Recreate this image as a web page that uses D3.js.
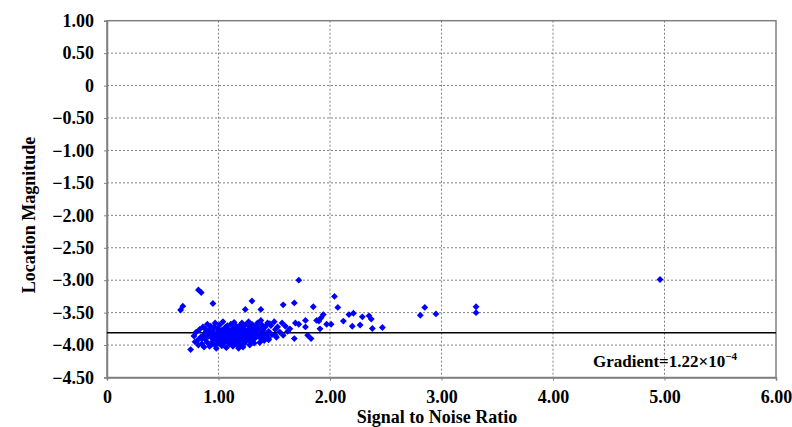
<!DOCTYPE html>
<html><head><meta charset="utf-8">
<script src="https://cdn.jsdelivr.net/npm/d3@7/dist/d3.min.js"></script>
<style>body{margin:0;background:#fff}svg{display:block}</style>
</head><body>
<svg id="c" width="792" height="427"></svg>
<script>
const xTicks = [0,1,2,3,4,5,6];
const xTickLabels = ["0","1.00","2.00","3.00","4.00","5.00","6.00"];
const yTicks = [1,0.5,0,-0.5,-1,-1.5,-2,-2.5,-3,-3.5,-4,-4.5];
const yTickLabels = ["1.00","0.50","0","\u22120.50","\u22121.00","\u22121.50","\u22122.00","\u22122.50","\u22123.00","\u22123.50","\u22124.00","\u22124.50"];
const meanLevel = -3.81;
const snr = [
0.78,0.80,0.81,0.83,0.84,0.85,0.79,0.82,
0.86,0.87,0.88,0.89,0.90,0.90,0.91,0.92,0.88,0.92,0.87,
0.93,0.94,0.95,0.95,0.96,0.97,0.97,0.98,0.99,0.99,1.00,1.00,0.94,0.96,0.98,
1.01,1.01,1.02,1.03,1.03,1.04,1.04,1.05,1.05,1.06,1.06,1.07,1.07,1.08,1.08,1.02,1.04,1.06,1.08,1.03,
1.09,1.09,1.10,1.10,1.11,1.11,1.12,1.12,1.13,1.13,1.14,1.14,1.15,1.15,1.16,1.16,1.10,1.12,1.14,1.16,
1.17,1.17,1.18,1.18,1.19,1.19,1.20,1.20,1.21,1.21,1.22,1.22,1.23,1.23,1.24,1.24,1.25,1.25,1.18,1.22,
1.26,1.26,1.27,1.27,1.28,1.28,1.29,1.29,1.30,1.30,1.31,1.31,1.32,1.33,1.33,1.34,1.35,1.35,1.32,1.28,
1.36,1.37,1.38,1.38,1.39,1.40,1.40,1.41,1.42,1.43,1.44,1.45,1.45,1.37,
1.47,1.48,1.50,1.51,1.52,1.53,1.55,1.57,1.58,1.60,1.62,1.64,1.46,1.51,1.41,1.45,
0.85,0.89,0.93,0.97,1.01,1.05,1.09,1.13,1.17,1.21,1.25,1.29,1.33,0.91,0.99,1.07,1.15,1.23,1.31,1.39,
1.68,1.69,1.72,1.78,1.78,1.80,1.83,1.88,1.90,1.91,1.92,1.94,1.97,2.01,2.07,2.04,2.12,2.17,2.21,2.20,2.27,2.29,2.35,2.37,2.38,2.47,2.81,2.85,2.95,3.31,3.31,4.96,
0.66,0.68,0.82,0.845,0.95,1.24,1.30,1.38,1.58,1.68,1.72,1.85,0.75
];
const magnitude = [
-3.86,-3.80,-3.93,-3.76,-3.88,-3.98,-3.95,-4.00,
-3.72,-3.84,-3.91,-3.79,-3.68,-3.96,-3.86,-4.02,-3.75,-3.81,-4.03,
-3.71,-3.89,-3.78,-3.94,-3.83,-3.66,-4.00,-3.87,-3.74,-3.92,-3.80,-3.97,-3.99,-3.72,-4.05,
-3.69,-3.85,-3.93,-3.77,-4.01,-3.88,-3.64,-3.82,-3.96,-3.73,-3.90,-3.79,-4.04,-3.86,-3.70,-3.81,-3.98,-3.84,-3.95,-3.91,
-3.92,-3.76,-3.83,-3.99,-3.68,-3.88,-3.80,-3.95,-3.74,-4.02,-3.86,-3.65,-3.79,-3.93,-3.84,-3.71,-3.90,-3.87,-3.97,-3.99,
-3.89,-3.76,-3.81,-3.96,-3.70,-3.86,-3.78,-4.01,-3.92,-3.66,-3.84,-3.74,-3.89,-3.98,-3.80,-3.69,-3.87,-3.94,-4.05,-4.03,
-3.77,-3.91,-3.83,-3.64,-3.86,-3.72,-3.95,-3.80,-3.88,-3.68,-3.76,-3.92,-3.84,-3.71,-3.89,-3.79,-3.86,-3.66,-3.97,-4.00,
-3.74,-3.88,-3.81,-3.62,-3.69,-3.85,-3.77,-3.93,-3.72,-3.83,-3.66,-3.79,-3.89,-3.96,
-3.70,-3.84,-3.64,-3.76,-3.88,-3.72,-3.80,-3.66,-3.85,-3.71,-3.79,-3.75,-3.67,-3.85,-3.90,-3.92,
-3.90,-3.82,-3.85,-3.90,-3.78,-3.87,-3.84,-3.91,-3.82,-3.88,-3.83,-3.90,-3.81,-3.77,-3.84,-3.74,-3.81,-3.78,-3.74,-3.91,
-3.90,-3.66,-3.68,-3.62,-3.72,-3.85,-3.90,-3.62,-3.63,-3.75,-3.58,-3.53,-3.68,-3.68,-3.42,-3.25,-3.63,-3.53,-3.51,-3.71,-3.69,-3.565,-3.55,-3.60,-3.745,-3.73,-3.54,-3.42,-3.52,-3.41,-3.50,-2.99,
-3.46,-3.40,-3.15,-3.19,-3.36,-3.45,-3.32,-3.45,-3.38,-3.35,-3.00,-3.41,-4.07
];
const gradientText = "Gradient=1.22\u00d710";
const gradientExp = "\u22124";

const svg = d3.select("#c");
const L = 107, R = 776, T = 20.7, B = 377.5;
const x = d3.scaleLinear().domain([0,6]).range([L,R]);
const y = d3.scaleLinear().domain([-4.5,1]).range([B,T]);
const font = "'Liberation Serif','Times New Roman',serif";
const grey = "#808080";

// gridlines
svg.append("g").selectAll("line").data(yTicks.filter(v=>v<1 && v>-4.5)).join("line")
  .attr("x1",L).attr("x2",R).attr("y1",d=>y(d)).attr("y2",d=>y(d))
  .attr("stroke",grey).attr("stroke-width",1).attr("stroke-dasharray","2,2");
svg.append("g").selectAll("line").data(xTicks.filter(v=>v>0 && v<6)).join("line")
  .attr("y1",T).attr("y2",B).attr("x1",d=>x(d)).attr("x2",d=>x(d))
  .attr("stroke",grey).attr("stroke-width",1).attr("stroke-dasharray","2,2");

// frame
svg.append("rect").attr("x",L).attr("y",T).attr("width",R-L).attr("height",B-T)
  .attr("fill","none").attr("stroke",grey).attr("stroke-width",1.5);

// axes
const yAxis = d3.axisLeft(y).tickValues(yTicks).tickFormat((d,i)=>yTickLabels[i]).tickSize(3).tickPadding(10);
const gy = svg.append("g").attr("transform",`translate(${L},0)`).attr("font-family",font).call(yAxis);
const xAxis = d3.axisBottom(x).tickValues(xTicks).tickFormat((d,i)=>xTickLabels[i]).tickSize(3).tickPadding(6);
const gx = svg.append("g").attr("transform",`translate(0,${B})`).call(xAxis);
[gx,gy].forEach(g=>{
  g.attr("font-family",font);
  g.select(".domain").attr("stroke",grey).attr("stroke-width",1.5);
  g.selectAll(".tick line").attr("stroke",grey);
  g.selectAll("text").attr("font-family",font).attr("font-weight","bold").attr("font-size",18).attr("fill","#000");
});
gx.selectAll(".tick text").attr("dy","0.9em");

// mean line
svg.append("line").attr("x1",x(0)).attr("x2",x(6)).attr("y1",y(meanLevel)).attr("y2",y(meanLevel))
  .attr("stroke","#000").attr("stroke-width",1.5);

// points
const pts = snr.map((v,i)=>[v,magnitude[i]]);
svg.append("g").selectAll("path").data(pts).join("path")
  .attr("d", d3.symbol().type(d3.symbolDiamond2).size(30))
  .attr("transform",d=>`translate(${x(d[0])},${y(d[1])})`)
  .attr("fill","#0000ff");

// annotations
const gt = svg.append("text").attr("x",593).attr("y",367).attr("font-family",font)
  .attr("font-weight","bold").attr("font-size",17).attr("fill","#000");
gt.append("tspan").text(gradientText);
gt.append("tspan").attr("font-size",11).attr("dy",-7).text(gradientExp);

svg.append("text").attr("x",437).attr("y",423).attr("text-anchor","middle")
  .attr("font-family",font).attr("font-weight","bold").attr("font-size",18).text("Signal to Noise Ratio");
svg.append("text").attr("transform","translate(35,215) rotate(-90)").attr("text-anchor","middle")
  .attr("font-family",font).attr("font-weight","bold").attr("font-size",18).text("Location Magnitude");
</script>
</body></html>
